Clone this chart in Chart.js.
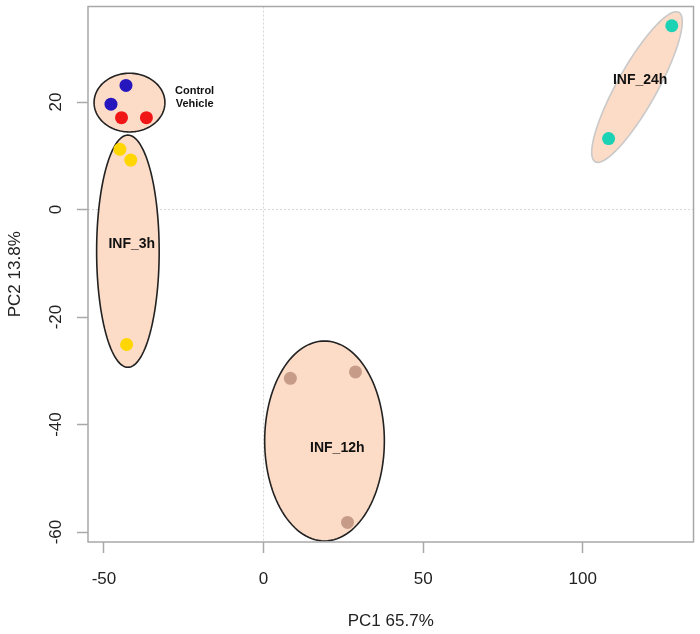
<!DOCTYPE html>
<html>
<head>
<meta charset="utf-8">
<script src="https://cdn.jsdelivr.net/npm/chart.js@4.4.0/dist/chart.umd.min.js"></script>
<style>
  body { margin: 0; background: #fff; }
  canvas { display: block; }
</style>
</head>
<body>
<canvas id="pcaChart" width="700" height="634"></canvas>
<script>
// PCA scores (PC1, PC2) per group
const controlPC1 = [-43.1, -47.8];
const controlPC2 = [23.1, 19.6];
const vehiclePC1 = [-44.5, -36.7];
const vehiclePC2 = [17.1, 17.1];
const inf3hPC1 = [-45.0, -41.6, -42.9];
const inf3hPC2 = [11.2, 9.2, -25.1];
const inf12hPC1 = [8.4, 28.8, 26.3];
const inf12hPC2 = [-31.4, -30.2, -58.2];
const inf24hPC1 = [127.9, 108.1];
const inf24hPC2 = [34.2, 13.2];

// Axis ticks
const xTicks = [-50, 0, 50, 100];
const yTicks = [-60, -40, -20, 0, 20];

// Group ellipses: centre and two semi-axis vectors, in data units
const ellipses = [
  { c: [-42.0, 19.9], a: [11.1, 0], b: [0, 5.46], stroke: '#222' },
  { c: [-42.5, -7.75], a: [9.8, 0], b: [0, 21.6], stroke: '#222' },
  { c: [19.1, -43.05], a: [18.75, 0], b: [0, 18.6], stroke: '#222' },
  { c: [117.0, 22.8], a: [13.1, 13.9], b: [5.45, -1.81], stroke: '#c9c9c9' }
];

// Group labels
const groupLabels = [
  { text: 'Control', x: -21.6, y: 22.0, size: 11 },
  { text: 'Vehicle', x: -21.6, y: 19.7, size: 11 },
  { text: 'INF_3h', x: -41.3, y: -6.5, size: 14 },
  { text: 'INF_12h', x: 23.1, y: -44.3, size: 14 },
  { text: 'INF_24h', x: 118.0, y: 24.1, size: 14 }
];

const pts = (xs, ys) => xs.map((x, i) => ({ x: x, y: ys[i] }));

const FONT = '"Liberation Sans", Arial, sans-serif';

// Draw zero lines and ellipses under the points, labels and box on top
const underlay = {
  id: 'underlay',
  beforeDatasetsDraw(chart) {
    const { ctx, chartArea: a, scales: { x, y } } = chart;
    ctx.save();
    // dotted zero lines
    ctx.strokeStyle = '#d6d6d6';
    ctx.lineWidth = 1;
    ctx.setLineDash([2, 2]);
    const x0 = x.getPixelForValue(0), y0 = y.getPixelForValue(0);
    ctx.beginPath();
    ctx.moveTo(x0, a.top); ctx.lineTo(x0, a.bottom);
    ctx.moveTo(a.left, y0); ctx.lineTo(a.right, y0);
    ctx.stroke();
    ctx.setLineDash([]);
    // ellipses
    ellipses.forEach(e => {
      ctx.beginPath();
      for (let i = 0; i <= 120; i++) {
        const t = i / 120 * Math.PI * 2;
        const dx = e.c[0] + e.a[0] * Math.cos(t) + e.b[0] * Math.sin(t);
        const dy = e.c[1] + e.a[1] * Math.cos(t) + e.b[1] * Math.sin(t);
        const px = x.getPixelForValue(dx), py = y.getPixelForValue(dy);
        if (i === 0) ctx.moveTo(px, py); else ctx.lineTo(px, py);
      }
      ctx.closePath();
      ctx.fillStyle = 'rgb(252,219,199)';
      ctx.fill();
      ctx.strokeStyle = e.stroke;
      ctx.lineWidth = 1.6;
      ctx.stroke();
    });
    ctx.restore();
  },
  afterDatasetsDraw(chart) {
    const { ctx, scales: { x, y } } = chart;
    ctx.save();
    ctx.fillStyle = '#111';
    ctx.textAlign = 'center';
    ctx.textBaseline = 'middle';
    groupLabels.forEach(l => {
      ctx.font = 'bold ' + l.size + 'px ' + FONT;
      ctx.fillText(l.text, x.getPixelForValue(l.x), y.getPixelForValue(l.y));
    });
    ctx.restore();
  },
  afterDraw(chart) {
    const { ctx, chartArea: a, scales: { y } } = chart;
    ctx.save();
    // box
    ctx.strokeStyle = '#a8a8a8';
    ctx.lineWidth = 1.5;
    ctx.strokeRect(a.left, a.top, a.right - a.left, a.bottom - a.top);
    // rotated y tick labels (R style)
    ctx.fillStyle = '#222';
    ctx.font = '17px ' + FONT;
    ctx.textAlign = 'center';
    ctx.textBaseline = 'middle';
    y.ticks.forEach(t => {
      ctx.save();
      ctx.translate(56, y.getPixelForValue(t.value));
      ctx.rotate(-Math.PI / 2);
      ctx.fillText(String(t.value), 0, 0);
      ctx.restore();
    });
    ctx.restore();
  }
};

const ctx = document.getElementById('pcaChart').getContext('2d');
const pcaChart = new Chart(ctx, {
  type: 'scatter',
  data: {
    datasets: [
      { label: 'Control', data: pts(controlPC1, controlPC2), backgroundColor: 'rgb(38,22,190)' },
      { label: 'Vehicle', data: pts(vehiclePC1, vehiclePC2), backgroundColor: 'rgb(240,22,22)' },
      { label: 'INF_3h', data: pts(inf3hPC1, inf3hPC2), backgroundColor: 'rgb(255,214,0)' },
      { label: 'INF_12h', data: pts(inf12hPC1, inf12hPC2), backgroundColor: 'rgba(180,135,115,0.75)' },
      { label: 'INF_24h', data: pts(inf24hPC1, inf24hPC2), backgroundColor: 'rgb(28,210,180)' }
    ]
  },
  options: {
    responsive: false,
    animation: false,
    devicePixelRatio: 1,
    layout: { padding: { top: 4, right: 5, left: 0, bottom: 0 } },
    elements: { point: { radius: 6.5, borderWidth: 0, hoverRadius: 6.5 } },
    plugins: {
      legend: { display: false },
      tooltip: { enabled: false }
    },
    scales: {
      x: {
        type: 'linear',
        min: -55.0,
        max: 134.7,
        afterBuildTicks: s => { s.ticks = xTicks.map(v => ({ value: v })); },
        afterFit: s => { s.height = 92; s.paddingLeft = 0; s.paddingRight = 0; },
        border: { display: false },
        grid: { drawOnChartArea: false, drawTicks: true, tickLength: 11, tickColor: '#a8a8a8', tickWidth: 1.5 },
        ticks: { color: '#222', font: { size: 17, family: FONT }, padding: 16, maxRotation: 0 },
        title: { display: true, text: 'PC1 65.7%', color: '#222', font: { size: 17, family: FONT }, padding: { top: 0, bottom: 2 } }
      },
      y: {
        type: 'linear',
        min: -61.85,
        max: 37.78,
        afterBuildTicks: s => { s.ticks = yTicks.map(v => ({ value: v })); },
        afterFit: s => { s.width = 88; s.paddingTop = 0; s.paddingBottom = 0; },
        border: { display: false },
        grid: { drawOnChartArea: false, drawTicks: true, tickLength: 11, tickColor: '#a8a8a8', tickWidth: 1.5 },
        ticks: { display: false },
        title: { display: true, text: 'PC2 13.8%', color: '#222', font: { size: 17, family: FONT }, padding: { top: 5, bottom: 0 } }
      }
    }
  },
  plugins: [underlay]
});
</script>
</body>
</html>
